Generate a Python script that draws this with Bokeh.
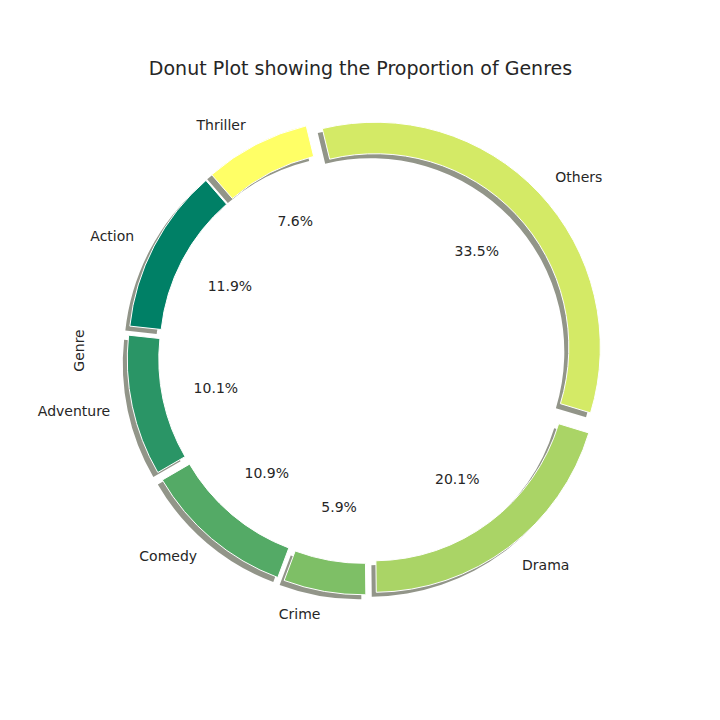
import numpy as np
from bokeh.plotting import figure
from bokeh.models import Range1d
from bokeh.core.properties import value
from bokeh.embed import file_html
from bokeh.resources import INLINE

genres = ["Action", "Adventure", "Comedy", "Crime", "Drama", "Others", "Thriller"]
shares = [11.9, 10.1, 10.9, 5.9, 20.1, 33.5, 7.6]
colors = ["#008066", "#2a9566", "#54aa66", "#7ebf66", "#aad466", "#d4ea66", "#ffff66"]

W = H = 704
S = 225.0
cx, cy = 365, 356
F = value("DejaVu Sans")
p = figure(width=W, height=H, output_backend="svg", toolbar_location=None,
           x_range=Range1d(-cx / S, (W - cx) / S), y_range=Range1d(-(H - cy) / S, cy / S),
           min_border=0)
p.axis.visible = False
p.grid.visible = False
p.outline_line_color = None

start = np.deg2rad(131)
explode = 0.06
ang = start
for g, v, c in zip(genres, shares, colors):
    span = v / 100 * 2 * np.pi
    a0, a1 = ang, ang + span
    mid = (a0 + a1) / 2
    ox, oy = explode * np.cos(mid), explode * np.sin(mid)
    p.annular_wedge(x=ox - 0.02, y=oy - 0.02, inner_radius=0.86, outer_radius=1.0,
                    start_angle=a0, end_angle=a1, fill_color="#4a4f3a", fill_alpha=0.6, line_color=None)
    p.annular_wedge(x=ox, y=oy, inner_radius=0.86, outer_radius=1.0,
                    start_angle=a0, end_angle=a1, fill_color=c, line_color="white", line_width=1)
    p.text(x=[ox + 1.1 * np.cos(mid)], y=[oy + 1.1 * np.sin(mid)], text=[g],
           text_align="right" if np.cos(mid) < -0.05 else ("left" if np.cos(mid) > 0.05 else "center"),
           text_baseline="middle", text_font_size="14px", text_color="#262626", text_font=F)
    p.text(x=[ox + 0.62 * np.cos(mid)], y=[oy + 0.62 * np.sin(mid)], text=[f"{v:.1f}%"],
           text_align="center", text_baseline="middle", text_font_size="14px",
           text_color="#262626", text_font=F)
    ang = a1

p.text(x=[(368 - 8 - cx) / S], y=[(cy - (75 - 8)) / S], text=["Donut Plot showing the Proportion of Genres"],
       text_align="center", text_baseline="middle", text_font_size="19px", text_color="#262626",
       text_font=F)
p.text(x=[(86 - 8 - cx) / S], y=[(cy - (358 - 8)) / S], text=["Genre"], angle=np.pi / 2,
       text_align="center", text_baseline="middle", text_font_size="14px", text_color="#262626",
       text_font=F)

open("out.html", "w").write(file_html(p, INLINE))
